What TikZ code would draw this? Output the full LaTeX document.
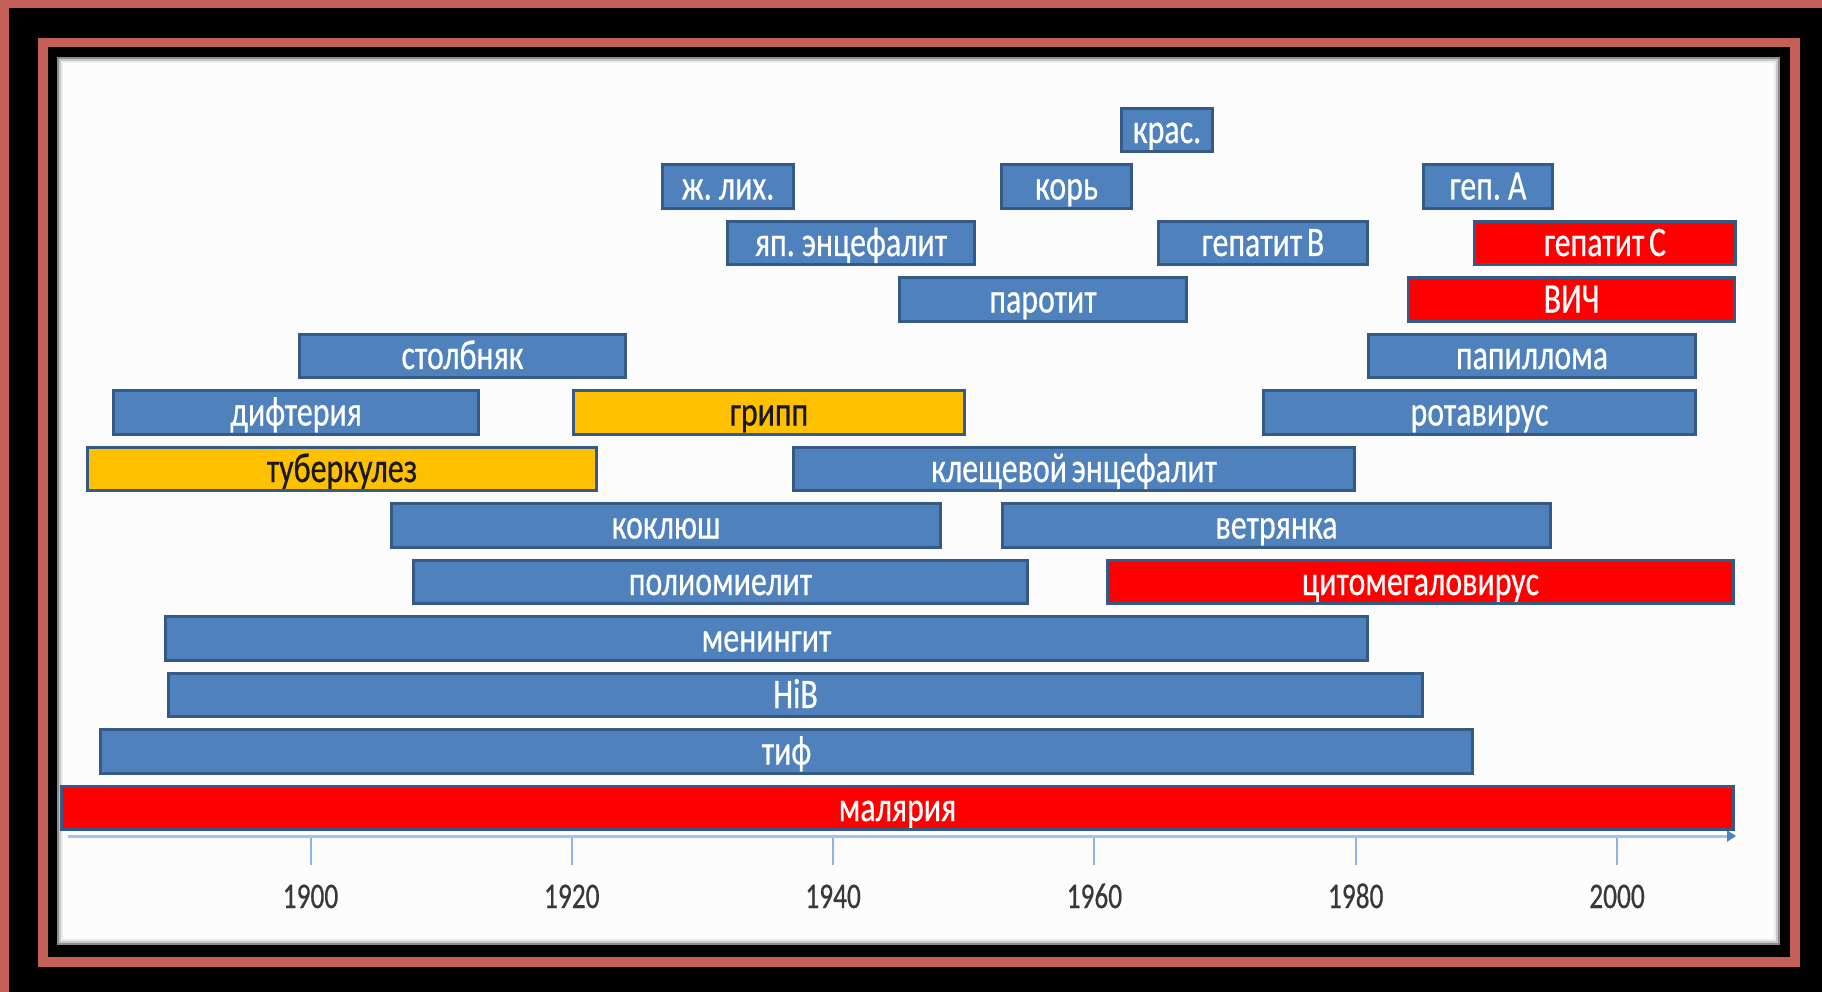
\documentclass[tikz,border=0pt]{standalone}
\usepackage{fontspec}
\setmainfont{Carlito}
\newfontfamily\barfont[FakeBold=0.6,WordSpace=0.65]{Carlito}
\usepackage{graphicx}
\usetikzlibrary{arrows.meta}
\definecolor{fr}{HTML}{C46058}
\definecolor{bfill}{HTML}{4F81BD}
\definecolor{bline}{HTML}{365A86}
\definecolor{rfill}{HTML}{FF0000}
\definecolor{yfill}{HTML}{FFC000}
\definecolor{axisc}{HTML}{A9C2E0}
\definecolor{tickc}{HTML}{8EB4E3}
\definecolor{panel}{HTML}{FBFCFB}
\newcommand{\nw}[1]{\scalebox{0.76}[1]{#1}}
\newcommand{\bx}[6]{\node[#5, minimum width={#3-#2-2.5}] (#1) at ({(#2+#3)/2},#4) {\nw{#6}};}
\tikzset{
  barbase/.style={draw=bline, line width=2.8pt, inner sep=0pt, minimum height=43.7pt,
    text height=28pt, text depth=2pt, font=\barfont\fontsize{42}{42}\selectfont},
  bluebar/.style={barbase, fill=bfill, text=white},
  redbar/.style={barbase, fill=rfill, text=white},
  yelbar/.style={barbase, fill=yfill, text=black!90},
  axlab/.style={anchor=base, inner sep=0pt, text=black!78, font=\barfont\fontsize{36}{36}\selectfont},
}
\begin{document}
\begin{tikzpicture}[x=1pt,y=-1pt]
\useasboundingbox (0,0) rectangle (1822,992);
% frame
\fill[black] (0,0) rectangle (1822,992);
\fill[fr] (0,0) rectangle (1822,8);
\fill[fr] (0,0) rectangle (9,992);
\draw[fr, line width=9.5pt] (43,42.5) rectangle (1795,962);
\fill[panel] (57,57) rectangle (1780,945);
\draw[black!45, line width=2pt] (58,58) rectangle (1779,944);
\draw[black!22, line width=2pt] (60,60) rectangle (1777,942);
\draw[black!8, line width=2pt] (62,62) rectangle (1775,940);
% axis
\coordinate (axL) at (68,836);
\coordinate (axR) at (1736,836);
\draw[axisc, line width=3pt, -{Triangle[length=9pt,width=11pt,color=bfill]}] (axL) -- (axR);
\foreach \i in {0,...,5}{
  \pgfmathtruncatemacro\yr{1900+20*\i}
  \draw[tickc, line width=2pt] ({310.5+261.3*\i},838) -- ++(0,27);
  \node[axlab] (yr\i) at ({310.5+261.3*\i},908) {\nw{\yr}};
}
% bars: name, x1, x2, y, style, text
\bx{kras}{1120}{1214}{130}{bluebar}{крас.}
\bx{zhl}{661}{795}{186.5}{bluebar}{ж. лих.}
\bx{kor}{1000}{1133}{186.5}{bluebar}{корь}
\bx{gepA}{1422}{1554}{186.5}{bluebar}{геп. А}
\bx{yap}{726}{976}{243}{bluebar}{яп. энцефалит}
\bx{gepB}{1157}{1369}{243}{bluebar}{гепатит B}
\bx{gepC}{1473}{1737}{243}{redbar}{гепатит C}
\bx{parot}{898}{1188}{299.5}{bluebar}{паротит}
\bx{vich}{1407}{1736}{299.5}{redbar}{ВИЧ}
\bx{stolb}{298}{627}{356}{bluebar}{столбняк}
\bx{papil}{1367}{1697}{356}{bluebar}{папиллома}
\bx{dift}{112}{480}{412.5}{bluebar}{дифтерия}
\bx{gripp}{572}{966}{412.5}{yelbar}{грипп}
\bx{rota}{1262}{1697}{412.5}{bluebar}{ротавирус}
\bx{tub}{86}{598}{469}{yelbar}{туберкулез}
\bx{klesh}{792}{1356}{469}{bluebar}{клещевой энцефалит}
\bx{kokl}{390}{942}{525.5}{bluebar}{коклюш}
\bx{vetr}{1001}{1552}{525.5}{bluebar}{ветрянка}
\bx{polio}{412}{1029}{582}{bluebar}{полиомиелит}
\bx{cmv}{1106}{1735}{582}{redbar}{цитомегаловирус}
\bx{mening}{164}{1369}{638.5}{bluebar}{менингит}
\bx{hib}{167}{1424}{695}{bluebar}{HiB}
\bx{tif}{99}{1474}{751.5}{bluebar}{тиф}
\bx{malar}{60}{1735}{808}{redbar}{малярия}
\end{tikzpicture}
\end{document}
